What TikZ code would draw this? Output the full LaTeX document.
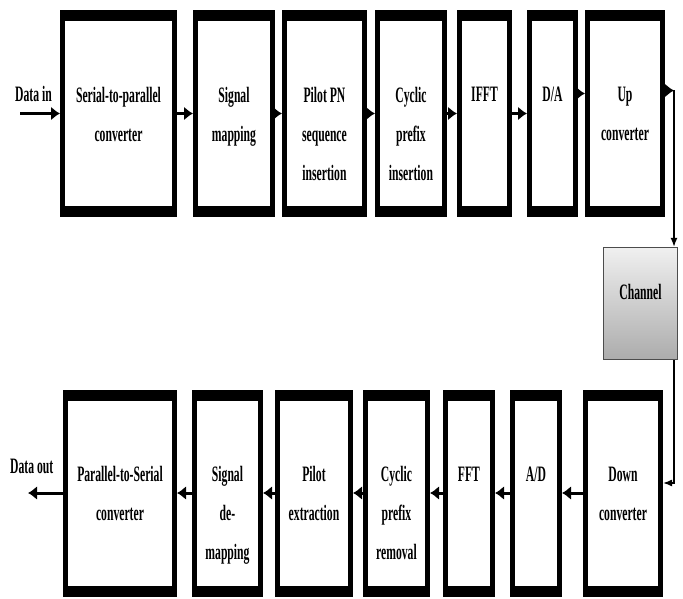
\documentclass[tikz,border=0pt]{standalone}
\usepackage{fontspec}
\setmainfont{Liberation Serif}[FakeStretch=0.53]
\usetikzlibrary{arrows.meta,positioning}

\begin{document}
\begin{tikzpicture}[x=1pt,y=1pt,
  blk/.style={draw,line width=5pt,minimum height=202pt,inner sep=0pt},
  txt/.style={align=center,inner sep=0pt,font=\fontsize{22}{39}\selectfont\bfseries},
  chan/.style={draw=gray!60!black,line width=1.2pt,top color=gray!12,bottom color=gray!65,
    minimum width=74pt,minimum height=112pt},
  arr/.style={line width=3pt,-{Latex[length=9pt,width=14pt]}},
  thinarr/.style={line width=1.5pt,-{Latex[length=9pt,width=7pt]}}]
  \useasboundingbox (0,0) rectangle (683,598);
  % transmitter chain
  \node[blk,minimum width=112pt] (sp) at (118.5,484.5) {};
  \node[blk,minimum width=77pt,right=16pt of sp] (sm) {};
  \node[blk,minimum width=80pt,right=7pt of sm] (pn) {};
  \node[blk,minimum width=67pt,right=8pt of pn] (cp) {};
  \node[blk,minimum width=50pt,right=10pt of cp] (ifft) {};
  \node[blk,minimum width=46pt,right=15pt of ifft] (da) {};
  \node[blk,minimum width=75pt,right=7pt of da] (up) {};
  % receiver chain
  \node[blk,minimum width=75pt] (dc) at (623,105) {};
  \node[blk,minimum width=47pt,left=21pt of dc] (ad) {};
  \node[blk,minimum width=47pt,left=15pt of ad] (fft) {};
  \node[blk,minimum width=62pt,left=13pt of fft] (cr) {};
  \node[blk,minimum width=73pt,left=10pt of cr] (pe) {};
  \node[blk,minimum width=66pt,left=12pt of pe] (sd) {};
  \node[blk,minimum width=109pt,left=15pt of sd] (ps) {};
  % channel
  \node[chan] (ch) at (640.5,294.5) {};
  \node[txt,below=37pt of ch.north] (ch-t) {Channel};
  % thick top and bottom edges
  \foreach \n in {sp,sm,pn,cp,ifft,da,up,dc,ad,fft,cr,pe,sd,ps} {
    \fill (\n.north west) rectangle ([yshift=-11pt]\n.north east);
    \fill (\n.south west) rectangle ([yshift=11pt]\n.south east);
  }
  % labels
  \foreach \n/\t in {sp/{Serial-to-parallel\\converter},sm/{Signal\\mapping},
      pn/{Pilot PN\\sequence\\insertion},cp/{Cyclic\\prefix\\insertion},ifft/IFFT,
      da/{D/A},up/{Up\\converter},dc/{Down\\converter},ad/{A/D},fft/FFT,
      cr/{Cyclic\\prefix\\removal},pe/{Pilot\\extraction},sd/{Signal\\de-\\mapping},
      ps/{Parallel-to-Serial\\converter}}
    \node[txt,below=77pt of \n.north] (\n-t) {\t};
  % input and output
  \coordinate[left=40pt of sp] (din);
  \coordinate[left=35pt of ps] (dout);
  \node[txt,above right=12pt and -5pt of din] (din-t) {Data in};
  \node[txt,above right=19pt and -18pt of dout] (dout-t) {Data out};
  \draw[arr] (din) -- (sp);
  \draw[arr] (ps) -- (dout);
  % arrows
  \foreach \a/\b in {sp/sm,sm/pn,pn/cp,cp/ifft,ifft/da} \draw[arr] (\a) -- (\b);
  \draw[arr] ([yshift=20pt]da.east) -- ([yshift=20pt]up.west);
  \foreach \a/\b in {dc/ad,ad/fft,fft/cr,cr/pe,pe/sd,sd/ps} \draw[arr] (\a) -- (\b);
  \coordinate (tap) at ([xshift=9pt,yshift=23pt]up.east);
  \draw[arr] ([yshift=23pt]up.east) -- (tap);
  \draw[thinarr] (tap) -- (tap |- ch.north);
  \draw[thinarr] (tap |- ch.south) |- ([yshift=10pt]dc.east);
\end{tikzpicture}
\end{document}
